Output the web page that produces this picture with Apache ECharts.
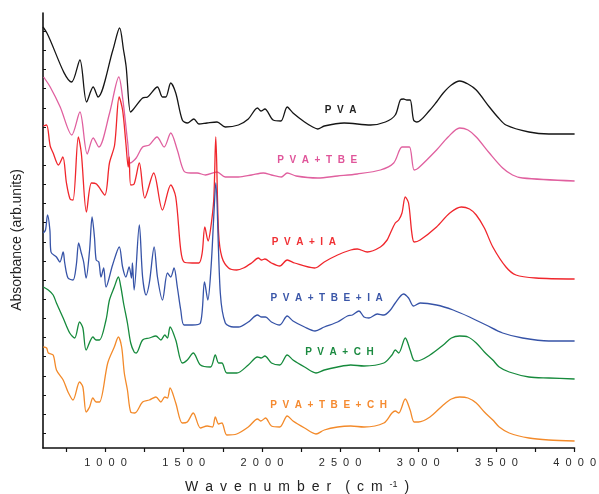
<!DOCTYPE html>
<html>
<head>
<meta charset="utf-8">
<script src="https://cdn.jsdelivr.net/npm/echarts@6/dist/echarts.min.js"></script>
<style>
  html, body { margin: 0; padding: 0; background: #ffffff; }
  #chart { width: 599px; height: 494px; }
</style>
</head>
<body>
<div id="chart"></div>
<script>
// FTIR spectra, stacked with offsets: [wavenumber (cm-1), absorbance (arb. units)]
const pva = [
  [600, 421], [625, 415], [784, 366], [836, 388], [879, 346], [921, 361], [952, 351],
  [1047, 398], [1090, 420], [1115, 398], [1132, 381], [1159, 336], [1174, 338],
  [1237, 350], [1269, 351], [1332, 361], [1364, 351], [1385, 351], [1417, 365],
  [1449, 355], [1491, 328], [1523, 325], [1565, 329], [1597, 324], [1649, 325],
  [1713, 326], [1766, 321], [1850, 323], [1913, 329], [1972, 340], [1994, 337],
  [2019, 339], [2072, 328], [2121, 327], [2162, 341], [2199, 335], [2273, 326],
  [2325, 321], [2357, 319], [2399, 322], [2526, 325], [2695, 323], [2790, 326],
  [2853, 333], [2885, 348], [2906, 349], [2927, 348], [2948, 348], [2970, 328],
  [2991, 326], [3075, 338], [3117, 346], [3160, 355], [3212, 363], [3265, 367],
  [3318, 364], [3371, 358], [3455, 341], [3508, 331], [3561, 323], [3708, 316],
  [3835, 314], [4000, 314]
];

const pvaTbe = [
  [604, 371], [646, 361], [710, 341], [784, 313], [836, 336], [883, 294], [921, 310],
  [957, 301], [1026, 335], [1085, 371], [1111, 348], [1142, 305], [1159, 285],
  [1196, 290], [1237, 301], [1280, 303], [1329, 311], [1375, 301], [1417, 315],
  [1459, 298], [1501, 277], [1544, 275], [1586, 275], [1639, 273], [1713, 276],
  [1766, 271], [1850, 271], [1934, 273], [2009, 275], [2061, 273], [2124, 271],
  [2162, 275], [2219, 272], [2357, 270], [2484, 272], [2610, 274], [2758, 278],
  [2843, 285], [2896, 301], [2917, 301], [2944, 301], [2974, 278], [3001, 280],
  [3117, 298], [3191, 311], [3265, 320], [3318, 318], [3371, 311], [3455, 295],
  [3540, 280], [3603, 273], [3667, 270], [4000, 267]
];

const pvaIa = [
  [602, 322], [623, 323], [646, 302], [665, 295], [699, 283], [727, 291], [750, 265],
  [773, 249], [792, 248], [826, 311], [845, 295], [878, 236], [910, 265], [942, 264],
  [995, 253], [1025, 285], [1058, 303], [1087, 351], [1109, 338], [1130, 305],
  [1145, 281], [1151, 291], [1161, 263], [1183, 264], [1216, 285], [1251, 250],
  [1308, 275], [1364, 238], [1417, 263], [1449, 251], [1481, 198], [1502, 186],
  [1554, 185], [1597, 185], [1618, 195], [1635, 221], [1656, 207], [1671, 218],
  [1692, 248], [1705, 311], [1723, 215], [1744, 191], [1787, 180], [1839, 178],
  [1882, 180], [1934, 185], [1977, 190], [1998, 188], [2019, 189], [2061, 185],
  [2114, 182], [2162, 188], [2209, 185], [2336, 180], [2357, 181], [2399, 186],
  [2484, 193], [2568, 198], [2610, 199], [2674, 196], [2758, 201], [2801, 208],
  [2822, 215], [2853, 225], [2875, 228], [2896, 235], [2917, 251], [2938, 245],
  [2959, 215], [2974, 206], [3012, 208], [3117, 221], [3202, 235], [3276, 241],
  [3328, 239], [3371, 233], [3423, 220], [3477, 201], [3561, 181], [3625, 173],
  [3752, 170], [4000, 169]
];

const pvaTbeIa = [
  [602, 215], [616, 218], [629, 233], [644, 218], [651, 196], [686, 191], [708, 186],
  [729, 196], [739, 185], [760, 170], [792, 168], [813, 183], [828, 205], [845, 195],
  [860, 186], [876, 170], [898, 198], [914, 231], [929, 211], [940, 188], [957, 186],
  [971, 171], [988, 180], [1003, 161], [1045, 183], [1088, 201], [1109, 181],
  [1130, 171], [1151, 181], [1166, 170], [1172, 185], [1183, 158], [1216, 223],
  [1237, 171], [1259, 153], [1280, 165], [1311, 201], [1332, 171], [1364, 148],
  [1396, 175], [1417, 171], [1438, 180], [1459, 161], [1481, 138], [1502, 123],
  [1554, 123], [1607, 125], [1633, 166], [1654, 148], [1675, 181], [1692, 231],
  [1705, 265], [1734, 155], [1766, 125], [1818, 121], [1850, 121], [1913, 126],
  [1972, 133], [1998, 131], [2023, 131], [2061, 126], [2114, 123], [2162, 132],
  [2199, 127], [2273, 121], [2340, 117], [2399, 121], [2484, 126], [2547, 132],
  [2579, 133], [2621, 137], [2653, 131], [2685, 130], [2738, 134], [2780, 133],
  [2822, 138], [2853, 145], [2906, 154], [2938, 150], [2970, 142], [3012, 145],
  [3117, 143], [3223, 138], [3328, 131], [3434, 123], [3540, 115], [3667, 110],
  [3835, 107], [4000, 107]
];

const pvaCh = [
  [602, 161], [634, 158], [665, 153], [686, 145], [729, 130], [771, 115], [803, 110],
  [834, 126], [855, 120], [876, 98], [919, 111], [940, 108], [961, 108], [1003, 128],
  [1025, 148], [1056, 161], [1082, 171], [1098, 161], [1115, 145], [1140, 125],
  [1161, 105], [1183, 96], [1196, 95], [1237, 108], [1280, 110], [1322, 112],
  [1354, 108], [1379, 113], [1396, 110], [1413, 121], [1449, 108], [1491, 85],
  [1523, 88], [1561, 95], [1607, 83], [1671, 81], [1702, 93], [1723, 85], [1744, 85],
  [1776, 75], [1839, 75], [1913, 83], [1972, 91], [1994, 90], [2019, 92], [2061, 85],
  [2114, 83], [2162, 93], [2199, 88], [2273, 81], [2346, 75], [2399, 78], [2484, 81],
  [2568, 83], [2653, 82], [2780, 85], [2832, 93], [2853, 98], [2875, 95], [2917, 110],
  [2948, 98], [2970, 88], [2991, 87], [3075, 93], [3160, 103], [3212, 110],
  [3265, 112], [3318, 111], [3371, 105], [3423, 96], [3477, 88], [3518, 81],
  [3582, 76], [3708, 71], [3835, 70], [4000, 69]
];

const pvaTbeCh = [
  [602, 101], [623, 100], [634, 95], [665, 93], [686, 78], [729, 68], [760, 56],
  [792, 48], [834, 66], [855, 61], [876, 36], [898, 41], [919, 50], [940, 46],
  [961, 46], [1014, 85], [1056, 101], [1082, 111], [1103, 101], [1120, 75],
  [1140, 58], [1161, 36], [1187, 35], [1237, 46], [1280, 48], [1322, 51], [1354, 46],
  [1379, 51], [1396, 50], [1413, 60], [1449, 45], [1491, 25], [1523, 26], [1561, 35],
  [1607, 20], [1650, 22], [1684, 21], [1702, 31], [1723, 24], [1744, 25], [1776, 13],
  [1839, 14], [1913, 21], [1972, 29], [1994, 27], [2023, 30], [2061, 22], [2114, 21],
  [2162, 32], [2199, 27], [2273, 20], [2346, 14], [2399, 18], [2484, 21], [2568, 22],
  [2653, 21], [2780, 25], [2832, 35], [2853, 37], [2875, 35], [2917, 49], [2948, 38],
  [2974, 26], [3001, 26], [3075, 31], [3160, 43], [3212, 49], [3265, 51], [3318, 50],
  [3371, 45], [3423, 36], [3477, 28], [3518, 21], [3582, 15], [3708, 10], [3835, 8],
  [4000, 7]
];

const sampleNames = ['PVA', 'PVA+TBE', 'PVA+IA', 'PVA+TBE+IA', 'PVA+CH', 'PVA+TBE+CH'];
const xTickLabels = [1000, 1500, 2000, 2500, 3000, 3500, 4000];
const xMinorTicks = [750, 1000, 1250, 1500, 1750, 2000, 2250, 2500, 2750, 3000, 3250, 3500, 3750, 4000];

// Drawing configuration
const spectra = [pva, pvaTbe, pvaIa, pvaTbeIa, pvaCh, pvaTbeCh];
const colors = ['#151515', '#e0609f', '#f0262c', '#3653a7', '#168a3c', '#f38a2a'];
const labelColors = ['#222222', '#e0559a', '#f03034', '#3a56a8', '#1b8a40', '#f58a30'];
const labelAnchors = [[2503, 338], [2354, 288], [2268, 206], [2414, 150], [2496, 96], [2427, 43]];

const spaced = (s, sep) => String(s).split('').join(sep);

// Inside tick marks along the absorbance axis
const yTicks = [];
for (let v = 14.7; v < 420; v += 19.15) yTicks.push(+v.toFixed(2));

const series = spectra.map((data, i) => ({
  name: sampleNames[i],
  type: 'line',
  data: data,
  showSymbol: false,
  smooth: 0.3,
  lineStyle: { color: colors[i], width: 1.3 },
  itemStyle: { color: colors[i] },
  silent: true,
  markPoint: {
    symbol: 'circle',
    symbolSize: 0,
    silent: true,
    label: {
      show: true,
      position: 'inside',
      formatter: spaced(sampleNames[i], '  '),
      color: labelColors[i],
      fontFamily: 'Liberation Sans, Arial, sans-serif',
      fontSize: 10,
      fontWeight: 'bold'
    },
    data: [{ coord: labelAnchors[i] }]
  }
}));

const chart = echarts.init(document.getElementById('chart'), null, { renderer: 'canvas' });
chart.setOption({
  animation: false,
  backgroundColor: '#ffffff',
  grid: { left: 43, right: 20, top: 13, bottom: 46 },
  xAxis: {
    type: 'value',
    min: 600,
    max: 4000,
    axisLine: { show: true, lineStyle: { color: '#111111', width: 1.6 } },
    axisTick: {
      show: true, inside: false, length: 4,
      lineStyle: { color: '#111111', width: 1.2 },
      customValues: xMinorTicks
    },
    axisLabel: {
      show: true,
      customValues: xTickLabels,
      formatter: v => spaced(v, '  '),
      color: '#2a2a2a',
      fontFamily: 'Liberation Sans, Arial, sans-serif',
      fontSize: 11,
      margin: 9
    },
    splitLine: { show: false }
  },
  yAxis: {
    type: 'value',
    min: 0,
    max: 435,
    axisLine: { show: true, lineStyle: { color: '#111111', width: 1.6 } },
    axisTick: {
      show: true, inside: true, length: 3,
      lineStyle: { color: '#111111', width: 1 },
      customValues: yTicks
    },
    axisLabel: { show: false },
    splitLine: { show: false }
  },
  graphic: [
    {
      type: 'text',
      x: 17,
      y: 240,
      rotation: Math.PI / 2,
      style: {
        text: 'Absorbance (arb.units)',
        fill: '#222222',
        font: '14px "Liberation Sans", Arial, sans-serif',
        align: 'center',
        verticalAlign: 'middle'
      }
    },
    {
      type: 'text',
      x: 185,
      y: 487,
      style: {
        text: spaced('Wavenumber', '\u2002') + '\u2002\u2002(\u2002c\u2002m\u2002{sup|-1}\u2002)',
        fill: '#222222',
        font: '14px "Liberation Sans", Arial, sans-serif',
        align: 'left',
        verticalAlign: 'middle',
        rich: {
          sup: {
            fontSize: 9,
            fill: '#222222',
            verticalAlign: 'top',
            lineHeight: 9
          }
        }
      }
    }
  ],
  series: series
});
</script>
</body>
</html>
